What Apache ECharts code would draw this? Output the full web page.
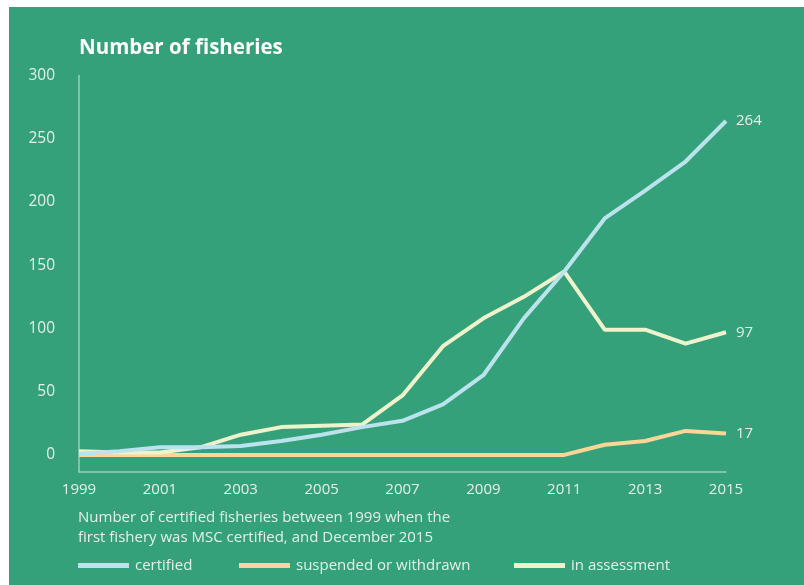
<!DOCTYPE html>
<html>
<head>
<meta charset="utf-8">
<script src="https://cdn.jsdelivr.net/npm/echarts@6/dist/echarts.min.js"></script>
<style>
  html, body { margin: 0; padding: 0; background: #fff; }
  #wrap { position: absolute; left: 9px; top: 7px; width: 795px; height: 578px; background: #35a17a; }
  #chart { width: 795px; height: 578px; }
</style>
</head>
<body>
<div id="wrap"><div id="chart"></div></div>
<script>
const years = ['1999', '2000', '2001', '2002', '2003', '2004', '2005', '2006', '2007',
  '2008', '2009', '2010', '2011', '2012', '2013', '2014', '2015'];
const certified = [1, 3, 6, 6, 7, 11, 16, 22, 27, 40, 63, 108, 145, 187, 209, 232, 264];
const suspended = [0, 0, 0, 0, 0, 0, 0, 0, 0, 0, 0, 0, 0, 8, 11, 19, 17];
const inAssessment = [3, 2, 2, 6, 16, 22, 23, 24, 47, 86, 108, 125, 145, 99, 99, 88, 97];
const yTicks = [0, 50, 100, 150, 200, 250, 300];

const textColor = '#e4f1e8';
const axisColor = '#9ccfb6';
const font = '"Open Sans", sans-serif';

const chart = echarts.init(document.getElementById('chart'));

const lineSeries = (name, data, color) => ({
  name: name,
  type: 'line',
  data: data,
  symbol: 'none',
  lineStyle: { color: color, width: 4 },
  itemStyle: { color: color },
  emphasis: { disabled: true },
  endLabel: {
    show: true,
    formatter: p => p.value,
    distance: 10,
    color: textColor,
    fontSize: 15,
    fontFamily: font
  }
});

const legendItem = (name, left) => ({
  data: [name],
  left: left,
  top: 546,
  icon: 'rect',
  itemWidth: 51,
  itemHeight: 5,
  itemGap: 0,
  textStyle: { color: textColor, fontSize: 15, fontFamily: font, padding: [0, 0, 0, 1] }
});

chart.setOption({
  animation: false,
  textStyle: { fontFamily: font },
  title: [
    {
      text: 'Number of fisheries',
      left: 65,
      top: 26,
      textStyle: { color: '#fff', fontSize: 20.5, fontWeight: 'bold', fontFamily: font }
    },
    {
      text: 'Number of certified fisheries between 1999 when the\nfirst fishery was MSC certified, and December 2015',
      left: 64,
      top: 496,
      textStyle: { color: textColor, fontSize: 15, fontWeight: 'normal', lineHeight: 20, fontFamily: font }
    }
  ],
  legend: [
    legendItem('certified', 64),
    legendItem('suspended or withdrawn', 225),
    legendItem('in assessment', 500)
  ],
  grid: { left: 70, right: 78, top: 68.5, bottom: 113 },
  xAxis: {
    type: 'category',
    data: years,
    boundaryGap: false,
    axisLine: { onZero: false, lineStyle: { color: axisColor, width: 1.5 } },
    axisTick: { show: false },
    axisLabel: { interval: 1, margin: 10, color: textColor, fontSize: 15, fontFamily: font }
  },
  yAxis: {
    type: 'value',
    min: -13.5,
    max: 300,
    axisLine: { show: true, lineStyle: { color: axisColor, width: 1.5 } },
    axisTick: { show: false },
    splitLine: { show: false },
    axisLabel: {
      customValues: yTicks,
      margin: 24,
      color: textColor,
      fontSize: 15.5,
      fontFamily: font,
      padding: [0, 0, 9, 0]
    }
  },
  series: [
    lineSeries('suspended or withdrawn', suspended, '#fbd696'),
    lineSeries('in assessment', inAssessment, '#eef3cc'),
    lineSeries('certified', certified, '#bae3ee')
  ]
});
</script>
</body>
</html>
